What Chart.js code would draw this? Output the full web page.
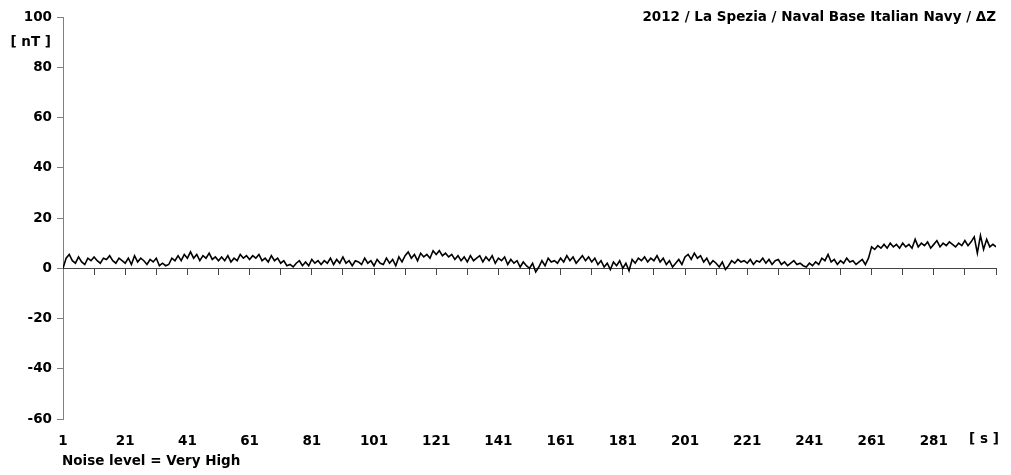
<!DOCTYPE html>
<html><head><meta charset="utf-8">
<script src="https://cdn.jsdelivr.net/npm/chart.js@4.4.1/dist/chart.umd.min.js"></script>
<style>html,body{margin:0;padding:0;background:#fff}#wrap{width:1011px;height:475px}</style>
</head><body><div id="wrap"><canvas id="c" width="1011" height="475"></canvas></div>
<script>
const title = '2012 / La Spezia / Naval Base Italian Navy / ΔZ';
const yUnit = '[ nT ]';
const xUnit = '[ s ]';
const footnote = 'Noise level = Very High';
const yTicks = [-60, -40, -20, 0, 20, 40, 60, 80, 100];
const xLabelTicks = [1, 21, 41, 61, 81, 101, 121, 141, 161, 181, 201, 221, 241, 261, 281];
const xMarkTicks = [1, 11, 21, 31, 41, 51, 61, 71, 81, 91, 101, 111, 121, 131, 141, 151, 161, 171, 181, 191, 201, 211, 221, 231, 241, 251, 261, 271, 281, 291, 301];
const deltaZ = [
 0, 4, 5.5, 3, 2, 4.5, 2.5, 1.5, 4, 3,
 4.5, 3, 2, 4, 3.5, 5, 3, 2, 4, 3,
 2, 4, 1.5, 5, 2.5, 4, 3, 1.5, 3.5, 2.5,
 4, 1, 2, 1, 1.5, 4, 3, 5, 3, 5.5,
 4, 6.5, 4, 5.5, 3, 5, 4, 6, 3.5, 4.5,
 3, 4.5, 3, 5, 2.5, 4, 3, 5.5, 4, 5,
 3.5, 5, 4, 5.5, 3, 4, 2.5, 5, 3, 4,
 2, 3, 1, 1.5, 0.5, 2, 3, 1, 2.5, 1,
 3.5, 2, 3, 1.5, 3, 2, 4, 1.5, 3.5, 2,
 4.5, 2, 3, 1, 3, 2.5, 1.5, 4, 2, 3,
 1, 3.5, 2, 1.5, 4, 2, 3.5, 1, 4.5, 2.5,
 5, 6.5, 4, 5.5, 3, 6, 4.5, 5.5, 4, 7,
 5.5, 7, 5, 6, 4.5, 5.5, 3.5, 5, 3, 4.5,
 2.5, 5, 3, 4, 5, 2.5, 4.5, 3, 5, 2,
 4, 3, 4.5, 1.5, 3.5, 2, 3, 0.5, 2.5, 1,
 0, 2, -1.5, 0.5, 3, 1, 4, 2.5, 3, 2,
 4, 2.5, 5, 3, 4.5, 2, 3.5, 5, 3, 4.5,
 2.5, 4, 1.5, 3, 0.5, 2, -0.5, 2.5, 1, 3,
 0, 2, -1, 3.5, 2, 4, 3, 4.5, 2.5, 4,
 3, 5, 2.5, 4, 1.5, 3, 0.5, 2, 3.5, 1.5,
 4.5, 5.5, 3.5, 6, 4, 5, 2.5, 4, 1.5, 3,
 2, 0.5, 2.5, -0.5, 1, 3, 2, 3.5, 2.5, 3,
 2, 3.5, 1.5, 3, 2.5, 4, 2, 3.5, 1.5, 3,
 3.5, 1.5, 2.5, 1, 2, 3, 1.5, 2, 1, 0.5,
 2, 1, 2.5, 1.5, 4, 3, 5.5, 2.5, 3.5, 1.5,
 3, 2, 4, 2.5, 3, 1.5, 2.5, 3.5, 1.5, 4,
 8.5, 7.5, 9, 8, 9.5, 8, 10, 8.5, 9.5, 8,
 10, 8.5, 9.5, 8, 11.5, 8.5, 10, 9, 10.5, 8,
 9.5, 11, 8.5, 10, 9, 10.5, 9.5, 8.5, 10, 9,
 11, 9, 10.5, 12.5, 6, 13, 7.5, 11.5, 8.5, 9.5,
 8.5
];
const seconds = deltaZ.map((_, i) => i + 1);

const FONT = 'DejaVu Sans';
const FSIZE = 13.5;
const axisColor = '#808080';

const textPlugin = {
  id: 'texts',
  afterDraw(chart) {
    const ctx = chart.ctx, ca = chart.chartArea;
    const ys = chart.scales.y, xs = chart.scales.x2;
    ctx.save();
    ctx.fillStyle = '#000';
    ctx.font = 'bold ' + FSIZE + 'px ' + FONT;
    ctx.textBaseline = 'middle';
    ctx.textAlign = 'right';
    ctx.fillText(title, ca.right, ys.getPixelForValue(100));
    ctx.fillText(yUnit, 51, 42);
    ctx.textAlign = 'center';
    ctx.fillText(xUnit, xs.getPixelForValue(301) - 12, 439);
    ctx.textAlign = 'left';
    ctx.fillText(footnote, ca.left - 1, 461);
    ctx.restore();
  }
};

new Chart(document.getElementById('c'), {
  type: 'line',
  data: {
    labels: seconds,
    datasets: [{
      data: seconds.map((s, i) => ({x: s, y: deltaZ[i]})),
      borderColor: '#000',
      borderWidth: 1.6,
      pointRadius: 0,
      tension: 0,
      fill: false
    }]
  },
  options: {
    responsive: false,
    animation: false,
    events: [],
    layout: {padding: {top: 17, right: 15, left: 0, bottom: 0}},
    plugins: {legend: {display: false}, tooltip: {enabled: false}, title: {display: false}},
    scales: {
      y: {
        type: 'linear', position: 'left', min: -60, max: 100,
        afterFit(s) { s.width = 63; },
        afterBuildTicks(s) { s.ticks = yTicks.map(v => ({value: v})); },
        border: {display: true, color: axisColor, width: 1},
        grid: {drawOnChartArea: false, drawTicks: true, tickLength: 6, color: axisColor},
        ticks: {color: '#000', font: {family: FONT, weight: 'bold', size: FSIZE}, padding: 5}
      },
      x: {
        type: 'linear', position: {y: 0}, min: 1, max: 301,
        afterBuildTicks(s) { s.ticks = xMarkTicks.map(v => ({value: v})); },
        border: {display: true, color: '#444', width: 1},
        grid: {drawOnChartArea: false, drawTicks: true, tickLength: 6, color: '#444'},
        ticks: {display: false}
      },
      x2: {
        type: 'linear', position: 'bottom', min: 1, max: 301, axis: 'x',
        afterFit(s) { s.height = 56; },
        afterBuildTicks(s) { s.ticks = xLabelTicks.map(v => ({value: v})); },
        border: {display: false},
        grid: {display: false, drawTicks: false},
        ticks: {color: '#000', font: {family: FONT, weight: 'bold', size: FSIZE}, padding: 14, maxRotation: 0, autoSkip: false}
      }
    }
  },
  plugins: [textPlugin]
});
</script></body></html>
